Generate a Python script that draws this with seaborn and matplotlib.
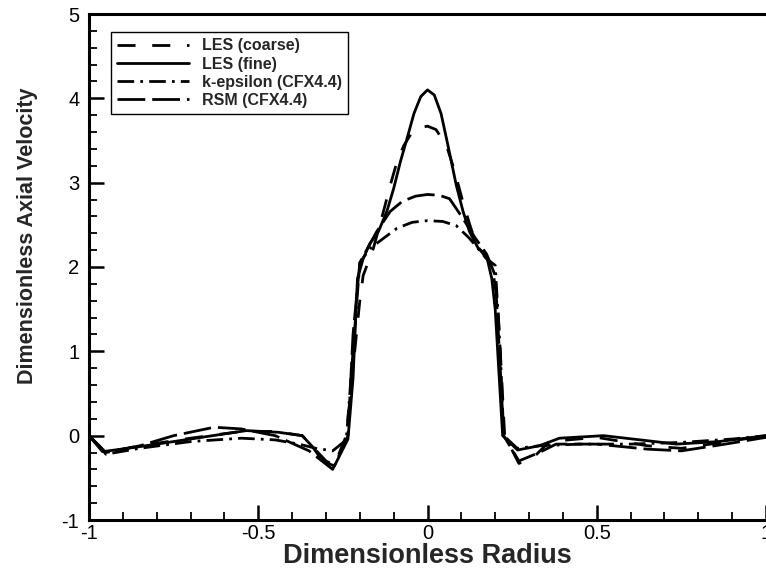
import matplotlib
matplotlib.use("Agg")
import matplotlib.pyplot as plt
import seaborn as sns
from matplotlib.ticker import MultipleLocator

# Axial velocity profiles across the pipe radius
les_fine_r = [-1.0, -0.96, -0.85, -0.75, -0.635, -0.535, -0.44, -0.37, -0.34, -0.31,
              -0.275, -0.235, -0.22, -0.207, -0.19, -0.17, -0.145, -0.12, -0.10, -0.08,
              -0.06, -0.04, -0.02, 0.0, 0.02, 0.04, 0.06, 0.085, 0.105, 0.124,
              0.15, 0.174, 0.19, 0.2, 0.222, 0.266, 0.33, 0.39, 0.52, 0.65,
              0.735, 0.86, 1.0]
les_fine_u = [0.0, -0.19, -0.13, -0.07, 0.0, 0.06, 0.04, 0.0, -0.13, -0.30,
              -0.36, -0.04, 0.68, 1.86, 2.10, 2.28, 2.42, 2.66, 2.93, 3.25,
              3.53, 3.82, 4.02, 4.10, 4.04, 3.82, 3.45, 2.97, 2.66, 2.42,
              2.22, 2.14, 1.86, 1.50, 0.0, -0.17, -0.12, -0.03, 0.0, -0.06,
              -0.10, -0.07, 0.0]

les_coarse_r = [-1.0, -0.95, -0.85, -0.7, -0.55, -0.45, -0.37, -0.3, -0.275, -0.24,
                -0.215, -0.2, -0.19, -0.16, -0.13, -0.11, -0.09, -0.07, -0.05, -0.025,
                0.0, 0.025, 0.056, 0.08, 0.104, 0.125, 0.145, 0.19, 0.207, 0.215,
                0.228, 0.27, 0.32, 0.36, 0.5, 0.65, 0.75, 0.87, 1.0]
les_coarse_u = [0.0, -0.2, -0.12, -0.03, 0.05, 0.05, 0.0, -0.3, -0.35, 0.0,
                1.0, 1.6, 1.9, 2.22, 2.66, 2.97, 3.25, 3.44, 3.57, 3.65,
                3.67, 3.63, 3.44, 3.14, 2.78, 2.50, 2.26, 2.02, 1.6, 1.0,
                0.0, -0.33, -0.23, -0.07, -0.02, -0.12, -0.15, -0.08, 0.0]

k_eps_r = [-1.0, -0.95, -0.85, -0.7, -0.55, -0.45, -0.38, -0.33, -0.28, -0.24,
           -0.22, -0.2, -0.17, -0.13, -0.09, -0.045, 0.0, 0.045, 0.085, 0.124,
           0.174, 0.2, 0.215, 0.225, 0.265, 0.33, 0.45, 0.6, 0.75, 0.9, 1.0]
k_eps_u = [0.0, -0.22, -0.15, -0.07, -0.03, -0.05, -0.1, -0.15, -0.18, -0.05,
           1.0, 2.05, 2.22, 2.34, 2.46, 2.53, 2.55, 2.54, 2.49, 2.34,
           2.1, 2.02, 1.0, 0.0, -0.15, -0.12, -0.1, -0.1, -0.08, -0.04, 0.0]

rsm_r = [-1.0, -0.95, -0.85, -0.75, -0.63, -0.55, -0.45, -0.35, -0.28, -0.235,
         -0.22, -0.2, -0.18, -0.15, -0.11, -0.074, -0.035, 0.0, 0.035, 0.065,
         0.104, 0.14, 0.175, 0.2, 0.215, 0.225, 0.27, 0.33, 0.38, 0.5,
         0.65, 0.75, 0.88, 1.0]
rsm_u = [0.0, -0.2, -0.12, 0.0, 0.1, 0.08, 0.0, -0.18, -0.4, 0.0,
         1.2, 2.05, 2.2, 2.42, 2.66, 2.78, 2.84, 2.86, 2.85, 2.81,
         2.58, 2.35, 2.15, 1.9, 0.8, 0.0, -0.3, -0.2, -0.1, -0.1,
         -0.16, -0.18, -0.1, -0.02]

series = [
    ("LES (coarse)", les_coarse_r, les_coarse_u, (6.5, 6.0)),
    ("LES (fine)", les_fine_r, les_fine_u, None),
    ("k-epsilon (CFX4.4)", k_eps_r, k_eps_u, (6.0, 2.2, 1.0, 2.2)),
    ("RSM (CFX4.4)", rsm_r, rsm_u, (10.0, 2.5)),
]

sns.set_theme(style="ticks")
plt.rcParams['font.family'] = ['Liberation Sans', 'DejaVu Sans']

W, H = 766, 571
fig = plt.figure(figsize=(W / 100, H / 100), dpi=100)
ax = fig.add_axes([89 / W, 51 / H, (W - 89) / W, (520 - 14) / H])

for name, r, u, dash in series:
    kw = dict(x=r, y=u, ax=ax, color="black", linewidth=2.0, label=name)
    if dash is not None:
        kw["dashes"] = dash
    sns.lineplot(**kw)

ax.set_xlim(-1, 1)
ax.set_ylim(-1, 5)
ax.xaxis.set_minor_locator(MultipleLocator(0.1))
ax.yaxis.set_minor_locator(MultipleLocator(0.2))
ax.set_xticks([-1, -0.5, 0, 0.5, 1])
ax.set_xticklabels(["-1", "-0.5", "0", "0.5", "1"])
ax.set_yticks([-1, 0, 1, 2, 3, 4, 5])
ax.set_yticklabels(["-1", "0", "1", "2", "3", "4", "5"])

ax.tick_params(which="major", direction="in", length=11, width=1.8,
               labelsize=14.5, colors="black")
ax.tick_params(axis="x", which="major", pad=3)
ax.tick_params(axis="y", which="major", pad=7)
ax.tick_params(which="minor", direction="in", length=5.5, width=1.3, colors="black")
ax.tick_params(axis="x", which="both", top=False, bottom=True)
ax.tick_params(axis="y", which="both", left=True, right=False)

for side in ["left", "bottom", "top"]:
    ax.spines[side].set_linewidth(2.2)
    ax.spines[side].set_color("black")
ax.spines["right"].set_visible(False)

ax.set_xlabel("Dimensionless Radius", fontsize=19.5, fontweight="bold")
ax.set_ylabel("Dimensionless Axial Velocity", fontsize=15.5, fontweight="bold")
ax.xaxis.label.set_va("center")
ax.yaxis.label.set_va("center")
ax.xaxis.set_label_coords(0.5, (520 - 556) / 506)
ax.yaxis.set_label_coords((27 - 89) / 677, (520 - 236) / 506)

leg = ax.legend(loc="upper left", bbox_to_anchor=(111 / W, 1 - 32 / H),
                bbox_transform=fig.transFigure, frameon=True, fancybox=False,
                edgecolor="black", framealpha=1,
                prop={"weight": "bold", "size": 11.5},
                handlelength=4.5, handletextpad=0.8, labelspacing=0.2,
                borderpad=0.4, borderaxespad=0)
leg.get_frame().set_linewidth(1.0)

fig.savefig("out.png", dpi=100)
